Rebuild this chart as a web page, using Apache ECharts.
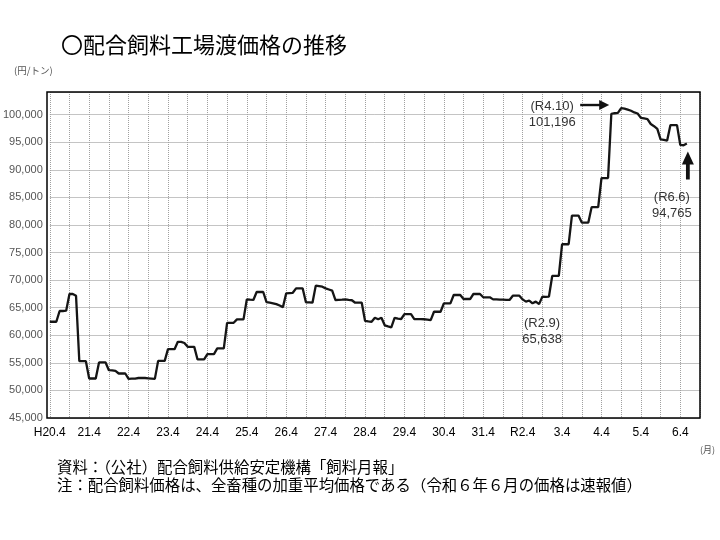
<!DOCTYPE html>
<html><head><meta charset="utf-8">
<script src="https://cdn.jsdelivr.net/npm/echarts@6/dist/echarts.min.js"></script>
<style>html,body{margin:0;padding:0;background:#fff}#c{width:720px;height:540px}</style>
</head><body><div id="c"></div>
<script>
// x-axis tick labels (every April)
const tickLabels = ['H20.4','21.4','22.4','23.4','24.4','25.4','26.4','27.4','28.4','29.4','30.4','31.4','R2.4','3.4','4.4','5.4','6.4'];

// monthly price (yen/ton), from 2008.4 (H20.4) to 2024.6 (R6.6)
const prices = [
  62450,62450,62450, 64400,64400,64450, 67480,67480,67150, 55300,55300,55300,      // H20
  52160,52160,52160, 55070,55070,55070, 53670,53650,53550, 53070,53070,53070,      // H21
  52100,52150,52150, 52250,52250,52250, 52200,52150,52100, 55360,55360,55360,      // H22
  57480,57480,57480, 58810,58800,58600, 57900,57900,57900, 55610,55610,55610,      // H23
  56570,56570,56570, 57610,57610,57610, 62260,62260,62260, 62880,62880,62880,      // H24
  66510,66450,66400, 67840,67840,67840, 66000,65900,65800, 65650,65400,65100,      // H25
  67600,67650,67700, 68510,68510,68510, 65970,65950,65900, 69000,68900,68800,      // H26
  68500,68300,68100, 66390,66400,66450, 66510,66400,66350, 65900,65900,65900,      // H27
  62630,62500,62450, 63170,62900,63170, 61800,61600,61430, 63170,63000,62950,      // H28
  63840,63840,63840, 62930,62930,62930, 62900,62850,62750, 64260,64260,64260,      // H29
  65790,65790,65790, 67300,67300,67300, 66570,66570,66570, 67480,67480,67480,      // H30
  66880,66880,66880, 66500,66500,66450, 66450,66400,66400, 67170,67170,67170,      // H31/R1
  66500,66100,66300, 65800,66100,65638, 67000,66950,67000, 70750,70750,70750,      // R2
  76500,76500,76500, 81700,81700,81700, 80430,80430,80430, 83230,83230,83230,      // R3
  88500,88500,88500, 100150,100250,100300, 101196,101100,100900, 100700,100400,100200, // R4
  99400,99300,99200, 98300,97900,97400, 95500,95400,95300, 98100,98100,98100,      // R5
  94500,94450,94765                                                                 // R6
];

// annotated points: month index, label text, value text
const noteIdx   = [149, 174, 194];
const noteLabel = ['(R2.9)', '(R4.10)', '(R6.6)'];
const noteValue = ['65,638', '101,196', '94,765'];

const totalMonths = 199; // axis spans H20.4 .. R6.10
const categories = Array.from({length: totalMonths}, (_, i) => {
  const y = 2008 + Math.floor((i + 3) / 12);
  const m = (i + 3) % 12 + 1;
  return y + '-' + m;
});

const G = {left: 47, right: 20, top: 92, bottom: 122};
const JP = "'Noto Sans CJK JP', sans-serif";
const LAT = "'Liberation Sans', 'Noto Sans CJK JP', sans-serif";

const chart = echarts.init(document.getElementById('c'));
chart.setOption({
  animation: false,
  backgroundColor: '#fff',
  title: {
    text: '〇配合飼料工場渡価格の推移',
    left: 56, top: 29,
    textStyle: {fontFamily: JP, fontSize: 22, fontWeight: 'normal', color: '#000'}
  },
  grid: {left: G.left, right: G.right, top: G.top, bottom: G.bottom, show: false},
  xAxis: {
    type: 'category', data: categories, boundaryGap: false,
    axisLine: {show: false}, axisTick: {show: false},
    axisLabel: {
      interval: 11, margin: 9, color: '#000', fontSize: 12, fontFamily: LAT,
      formatter: (v, idx) => tickLabels[Math.round(idx / 12)] || ''
    },
    splitLine: {show: true, interval: 5, lineStyle: {type: 'dotted', color: '#a0a0a0', width: 1}}
  },
  yAxis: {
    type: 'value', min: 45000, max: 104100, interval: 5000,
    axisLine: {show: false}, axisTick: {show: false},
    axisLabel: {
      showMaxLabel: false, margin: 7, color: '#555', fontSize: 11, fontFamily: LAT,
      formatter: v => v.toLocaleString('en-US')
    },
    splitLine: {lineStyle: {color: '#c4c4c4', width: 1}}
  },
  series: [{
    type: 'line', data: prices, showSymbol: false, symbol: 'none', smooth: false,
    lineStyle: {color: '#151515', width: 2.3}, z: 3
  }]
});

function pt(i) { return chart.convertToPixel({seriesIndex: 0}, [i, prices[i]]); }
const W = 720, H = 540;
const gw = W - G.left - G.right, gh = H - G.top - G.bottom;
const p29 = pt(noteIdx[0]), p410 = pt(noteIdx[1]), p66 = pt(noteIdx[2]);
const noteStyle = {fontFamily: LAT, fontSize: 13, fill: '#333', align: 'center', verticalAlign: 'middle'};

chart.setOption({
  graphic: [
    {type: 'rect', shape: {x: G.left, y: G.top, width: gw, height: gh}, style: {fill: 'none', stroke: '#000', lineWidth: 1.5}, z: 10},
    {type: 'text', x: 14, y: 70, style: {text: '(円/トン)', fontFamily: JP, fontSize: 9.5, fill: '#555', verticalAlign: 'middle'}},
    {type: 'text', x: 700, y: 450, style: {text: '(月)', fontFamily: JP, fontSize: 9, fill: '#555', verticalAlign: 'middle'}},
    {type: 'text', x: 57, y: 467, style: {text: '資料：（公社）配合飼料供給安定機構「飼料月報」', fontFamily: JP, fontSize: 15.4, fill: '#000', verticalAlign: 'middle'}},
    {type: 'text', x: 57, y: 485, style: {text: '注：配合飼料価格は、全畜種の加重平均価格である（令和６年６月の価格は速報値）', fontFamily: JP, fontSize: 15.4, fill: '#000', verticalAlign: 'middle'}},
    // R2.9
    {type: 'text', x: p29[0] + 3, y: p29[1] + 19, style: Object.assign({text: noteLabel[0]}, noteStyle), z: 11},
    {type: 'text', x: p29[0] + 3, y: p29[1] + 35, style: Object.assign({text: noteValue[0]}, noteStyle), z: 11},
    // R4.10
    {type: 'text', x: p410[0] - 69, y: p410[1] - 2, style: Object.assign({text: noteLabel[1]}, noteStyle), z: 11},
    {type: 'text', x: p410[0] - 69, y: p410[1] + 14, style: Object.assign({text: noteValue[1]}, noteStyle), z: 11},
    {type: 'line', shape: {x1: p410[0] - 41, y1: p410[1] - 3, x2: p410[0] - 21, y2: p410[1] - 3}, style: {stroke: '#111', lineWidth: 2.4}, z: 11},
    {type: 'polygon', shape: {points: [[p410[0] - 12, p410[1] - 3], [p410[0] - 22, p410[1] - 8], [p410[0] - 22, p410[1] + 2]]}, style: {fill: '#111'}, z: 11},
    // R6.6
    {type: 'text', x: p66[0] - 15, y: p66[1] + 54, style: Object.assign({text: noteLabel[2]}, noteStyle), z: 11},
    {type: 'text', x: p66[0] - 15, y: p66[1] + 70, style: Object.assign({text: noteValue[2]}, noteStyle), z: 11},
    {type: 'line', shape: {x1: p66[0] + 1, y1: p66[1] + 36, x2: p66[0] + 1, y2: p66[1] + 19}, style: {stroke: '#111', lineWidth: 3.8}, z: 11},
    {type: 'polygon', shape: {points: [[p66[0] + 1, p66[1] + 8], [p66[0] - 5, p66[1] + 21], [p66[0] + 7, p66[1] + 21]]}, style: {fill: '#111'}, z: 11}
  ]
});
</script>
</body></html>
